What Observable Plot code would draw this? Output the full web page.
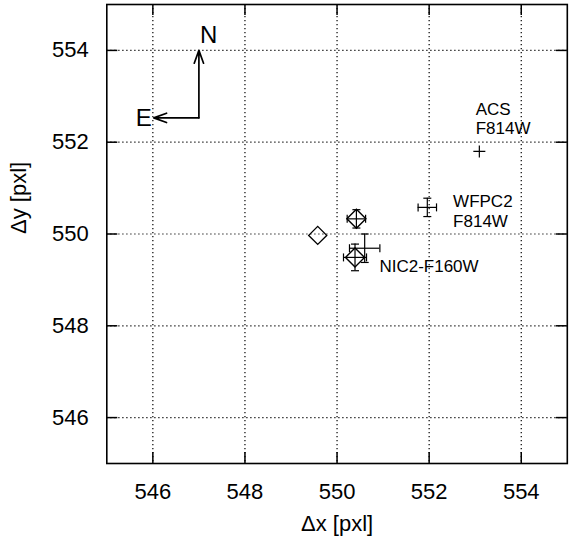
<!DOCTYPE html>
<html><head><meta charset="utf-8">
<script src="https://cdn.jsdelivr.net/npm/d3@7"></script>
<script src="https://cdn.jsdelivr.net/npm/@observablehq/plot@0.6"></script>
<style>html,body{margin:0;padding:0;background:#fff}</style>
</head><body><div id="chart"></div>
<script>
// ---- data ----
const xTicks = [546, 548, 550, 552, 554];
const yTicks = [546, 548, 550, 552, 554];

// measurements with error bars
const ebNames   = ["WFPC2-F814W", "NIC2-F160W a", "NIC2-F160W b", "NIC2-F160W c"];
const ebX       = [551.96, 550.42, 550.39, 550.60];
const ebY       = [550.58, 550.33, 549.49, 549.69];
const ebErrX    = [0.20, 0.20, 0.25, 0.33];
const ebErrY    = [0.20, 0.20, 0.29, 0.31];
const ebDiamond = [false, true, true, false];

// ACS point (plus marker) and lone diamond
const acsX = [553.09], acsY = [551.80];
const freeX = [549.58], freeY = [549.97];

// annotations (one entry per text line)
const labelText = ["ACS", "F814W", "WFPC2", "F814W", "NIC2-F160W"];
const labelX = [553.01, 553.01, 552.52, 552.52, 550.92];
const labelY = [552.71, 552.29, 550.70, 550.27, 549.30];

const compassText = ["N", "E"];
const compassX = [547.21, 545.80];
const compassY = [554.32, 552.51];
const arrowX1 = [547.0, 547.0], arrowY1 = [552.53, 552.53];
const arrowX2 = [547.0, 546.02], arrowY2 = [554.0, 552.53];

// ---- tables ----
const eb = ebNames.map((n, i) => ({name: n, x: ebX[i], y: ebY[i], ex: ebErrX[i], ey: ebErrY[i], diamond: ebDiamond[i]}));
const acs = acsX.map((x, i) => ({x, y: acsY[i]}));
const free = freeX.map((x, i) => ({x, y: freeY[i]}));
const labels = labelText.map((t, i) => ({t, x: labelX[i], y: labelY[i]}));
const compass = compassText.map((t, i) => ({t, x: compassX[i], y: compassY[i]}));
const arrows = arrowX1.map((x1, i) => ({x1, y1: arrowY1[i], x2: arrowX2[i], y2: arrowY2[i]}));

// ---- custom symbols ----
const rad = s => Math.sqrt(s / Math.PI);
const capV = {draw(c, s) { const r = rad(s); c.moveTo(0, -r); c.lineTo(0, r); }};
const capH = {draw(c, s) { const r = rad(s); c.moveTo(-r, 0); c.lineTo(r, 0); }};
const diamond = {draw(c, s) { const r = rad(s); c.moveTo(0, -r); c.lineTo(r, 0); c.lineTo(0, r); c.lineTo(-r, 0); c.closePath(); }};
const plus = {draw(c, s) { const r = rad(s); c.moveTo(-r, 0); c.lineTo(r, 0); c.moveTo(0, -r); c.lineTo(0, r); }};

const W = 569, H = 547, mL = 106.3, mR = 2.2, mT = 4, mB = 84;
const iW = W - mL - mR, iH = H - mT - mB, T = 11;
const font = "'Liberation Sans', Arial, Helvetica, sans-serif";

const chart = Plot.plot({
  width: W, height: H,
  marginLeft: mL, marginRight: mR, marginTop: mT, marginBottom: mB,
  style: {fontFamily: font, background: "#fff", color: "#000"},
  x: {domain: [545, 555]},
  y: {domain: [545, 555]},
  marks: [
    // grid
    Plot.ruleX(xTicks, {x: d => d, stroke: "#000", strokeWidth: 1.2, strokeDasharray: "1.2,2.8"}),
    Plot.ruleY(yTicks, {y: d => d, stroke: "#000", strokeWidth: 1.2, strokeDasharray: "1.2,2.8"}),
    // inward ticks on all sides
    Plot.ruleX(xTicks, {x: d => d, insetTop: iH - T, stroke: "#000", strokeWidth: 1.5}),
    Plot.ruleX(xTicks, {x: d => d, insetBottom: iH - T, stroke: "#000", strokeWidth: 1.5}),
    Plot.ruleY(yTicks, {y: d => d, insetRight: iW - T, stroke: "#000", strokeWidth: 1.5}),
    Plot.ruleY(yTicks, {y: d => d, insetLeft: iW - T, stroke: "#000", strokeWidth: 1.5}),
    Plot.frame({stroke: "#000", strokeWidth: 1.6}),
    // tick labels
    Plot.axisX({ticks: xTicks, tickSize: 0, tickPadding: 20, fontSize: 22, label: null, tickFormat: d => String(d)}),
    Plot.axisY({ticks: yTicks, tickSize: 0, tickPadding: 18, fontSize: 22, label: null, tickFormat: d => String(d)}),
    // axis titles
    Plot.text(["Δx [pxl]"], {text: d => d, frameAnchor: "bottom", dy: 67, fontSize: 22, fill: "#000"}),
    Plot.text(["Δy [pxl]"], {text: d => d, frameAnchor: "left", dx: -88, rotate: -90, fontSize: 22, fill: "#000"}),
    // error bars
    Plot.ruleY(eb, {y: "y", x1: d => d.x - d.ex, x2: d => d.x + d.ex, stroke: "#000", strokeWidth: 1.2}),
    Plot.ruleX(eb, {x: "x", y1: d => d.y - d.ey, y2: d => d.y + d.ey, stroke: "#000", strokeWidth: 1.2}),
    Plot.dot(eb, {x: d => d.x - d.ex, y: "y", symbol: capV, r: 4, fill: "none", stroke: "#000", strokeWidth: 1.2}),
    Plot.dot(eb, {x: d => d.x + d.ex, y: "y", symbol: capV, r: 4, fill: "none", stroke: "#000", strokeWidth: 1.2}),
    Plot.dot(eb, {x: "x", y: d => d.y - d.ey, symbol: capH, r: 4, fill: "none", stroke: "#000", strokeWidth: 1.2}),
    Plot.dot(eb, {x: "x", y: d => d.y + d.ey, symbol: capH, r: 4, fill: "none", stroke: "#000", strokeWidth: 1.2}),
    // markers
    Plot.dot(eb.filter(d => d.diamond), {x: "x", y: "y", symbol: diamond, r: 9.5, fill: "none", stroke: "#000", strokeWidth: 1.4}),
    Plot.dot(free, {x: "x", y: "y", symbol: diamond, r: 9, fill: "none", stroke: "#000", strokeWidth: 1.4}),
    Plot.dot(acs, {x: "x", y: "y", symbol: plus, r: 6, fill: "none", stroke: "#000", strokeWidth: 1.2}),
    // labels
    Plot.text(labels, {x: "x", y: "y", text: "t", textAnchor: "start", lineAnchor: "middle", fontSize: 17, fill: "#000"}),
    // compass
    Plot.arrow(arrows, {x1: "x1", y1: "y1", x2: "x2", y2: "y2", stroke: "#000", strokeWidth: 1.7, headLength: 12, headAngle: 40}),
    Plot.text(compass, {x: "x", y: "y", text: "t", fontSize: 24, fill: "#000"})
  ]
});
document.getElementById("chart").append(chart);
</script>
</body></html>
